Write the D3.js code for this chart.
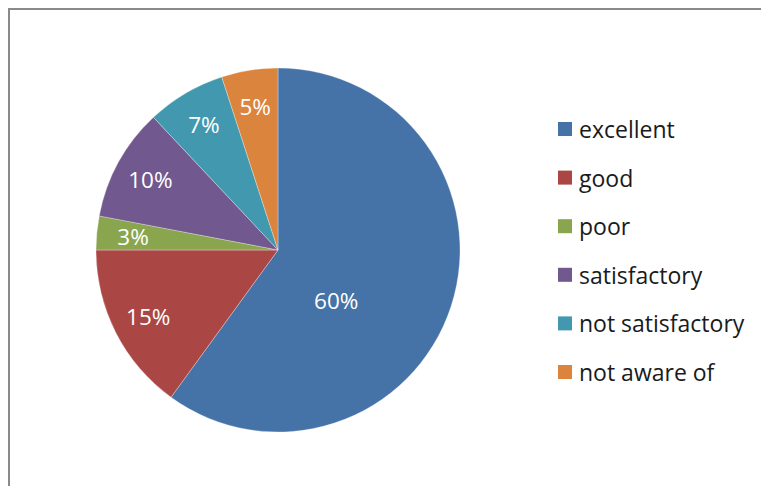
<!DOCTYPE html>
<html><head><meta charset="utf-8">
<script src="https://cdn.jsdelivr.net/npm/d3@7/dist/d3.min.js"></script>
<style>html,body{margin:0;padding:0;background:#fff;}svg{display:block;}</style>
</head><body>
<svg id="chart" width="761" height="486"></svg>
<script>
const categories = ["excellent","good","poor","satisfactory","not satisfactory","not aware of"];
const values = [60, 15, 3, 10, 7, 5];
const labels = ["60%","15%","3%","10%","7%","5%"];
const colors = ["#4572A7","#AA4643","#89A54E","#71588F","#4198AF","#DB843D"];

const svg = d3.select("#chart");
const W = 761, H = 486;
svg.append("rect").attr("x",0).attr("y",0).attr("width",W).attr("height",H).attr("fill","#fff");
// frame
svg.append("rect").attr("x",9).attr("y",9).attr("width",W+20).attr("height",H+20)
  .attr("fill","none").attr("stroke","#8a8a8a").attr("stroke-width",2);

const cx = 278, cy = 250, R = 182;
const data = categories.map((c,i)=>({cat:c, value:values[i], label:labels[i], color:colors[i]}));
const pie = d3.pie().value(d=>d.value).sort(null);
const arcs = pie(data);
const arc = d3.arc().innerRadius(0).outerRadius(R);
const g = svg.append("g").attr("transform",`translate(${cx},${cy})`);
g.selectAll("path").data(arcs).join("path")
  .attr("d",arc).attr("fill",d=>d.data.color)
  .attr("stroke","#ffffff").attr("stroke-opacity",0.5).attr("stroke-width",0.6);

// label positions: sector area centroid for big slice, 0.8R ring for others
const lblSmall = d3.arc().innerRadius(R*0.8).outerRadius(R*0.8);
g.selectAll("text.lbl").data(arcs).join("text").attr("class","lbl")
  .attr("transform",d=>{
    let p;
    const span = d.endAngle - d.startAngle;
    if (span > Math.PI) {
      const a = span/2;
      const dist = 2*R*Math.sin(a)/(3*a);
      const m = (d.startAngle+d.endAngle)/2;
      p = [dist*Math.sin(m), -dist*Math.cos(m) + 32];
    } else {
      p = lblSmall.centroid(d);
    }
    return `translate(${p[0]},${p[1]})`;
  })
  .attr("text-anchor","middle").attr("dominant-baseline","central")
  .attr("font-family","'Open Sans', sans-serif").attr("font-size",22.5)
  .attr("fill","#ffffff").text(d=>d.data.label);

// legend
const legY = d3.scalePoint().domain(categories).range([129,372]);
const leg = svg.append("g");
const items = leg.selectAll("g").data(data).join("g")
  .attr("transform",d=>`translate(558,${legY(d.cat)})`);
items.append("rect").attr("x",0).attr("y",-7).attr("width",14).attr("height",14)
  .attr("fill",d=>d.color);
items.append("text").attr("x",21).attr("y",0).attr("dominant-baseline","central")
  .attr("font-family","'Open Sans', sans-serif").attr("font-size",23).attr("fill","#1a1a1a")
  .text(d=>d.cat);
</script>
</body></html>
